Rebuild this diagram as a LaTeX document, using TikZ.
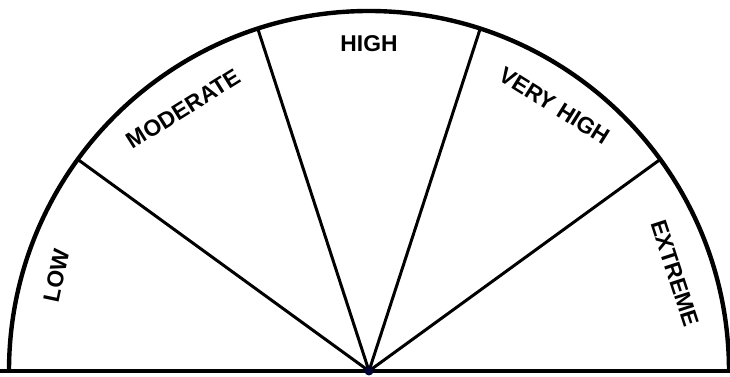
\documentclass[tikz,border=0pt]{standalone}
\usepackage{fontspec}
\setmainfont{Liberation Sans}
\usepackage{tikz}

\tikzset{
  rim/.style={line width=2.5pt, black},
  spoke/.style={line width=1.7pt, black},
  zone/.style={font=\fontsize{13}{15}\selectfont\bfseries, inner sep=1pt}
}

\begin{document}
\begin{tikzpicture}
  \useasboundingbox (-7.38,-0.12) rectangle (7.22,7.42);
  \def\R{7.2}
  % --- Centre ---
  \coordinate (c) at (0,0);
  % --- Base line and outer arc ---
  \draw[rim] (-7.38,0) -- (7.22,0);
  \draw[rim] (\R,0) arc[start angle=0, end angle=180, radius=\R];
  % --- Spokes (5 sectors, 36° spacing) ---
  \foreach \a in {36,72,108,144} {
    \draw[spoke] (c) -- (\a:\R);
  }
  \fill[black!80!blue] (c) circle (0.09);
  % --- Sector labels ---
  \node[zone, rotate=78]  (low)  at (163:6.54) {LOW};
  \node[zone, rotate=32]  (mod)  at (125.3:6.42) {MODERATE};
  \node[zone]             (high) at (90:6.54) {HIGH};
  \node[zone, rotate=-32] (vhi)  at (55:6.48) {VERY HIGH};
  \node[zone, rotate=-72] (ext)  at (17.7:6.42) {EXTREME};
\end{tikzpicture}
\end{document}
